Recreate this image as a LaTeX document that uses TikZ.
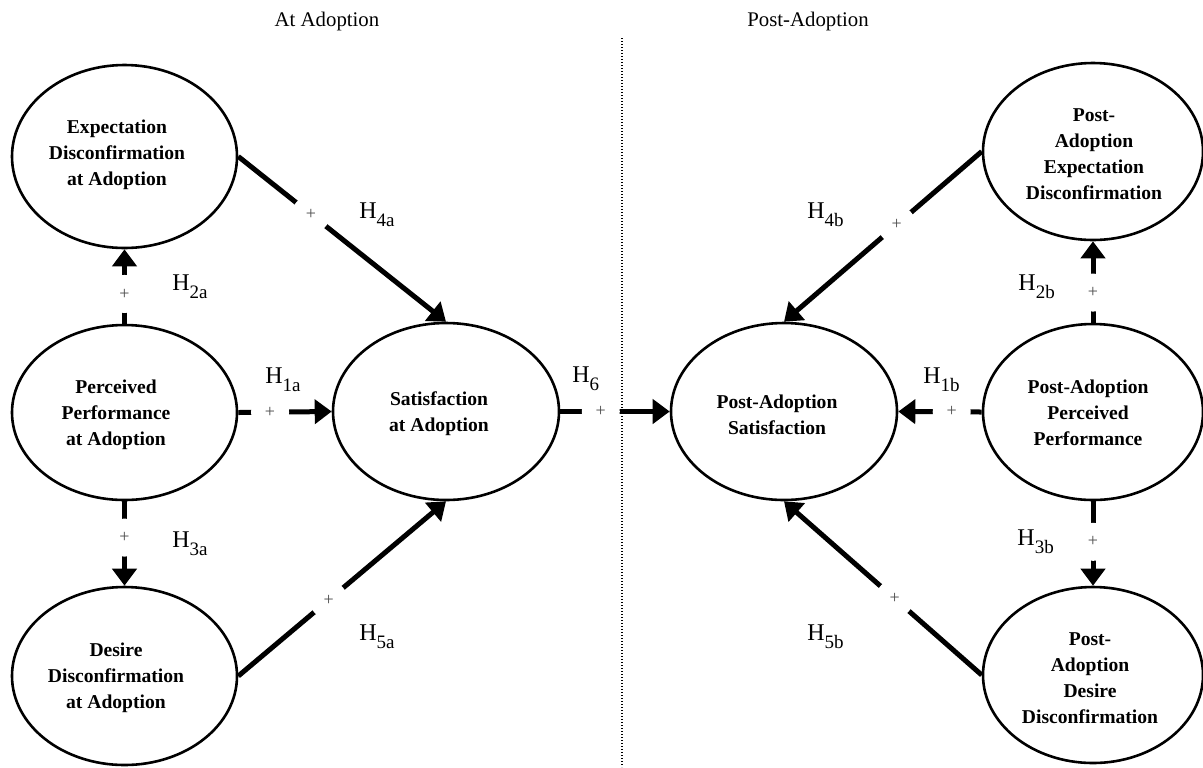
\documentclass[tikz,border=0pt]{standalone}
\usepackage{fontspec}
\setmainfont{Liberation Serif}
\usetikzlibrary{arrows.meta,shapes.geometric}
\newcommand\hyp[1]{H\raisebox{-4pt}{\fontsize{9.5}{9.5}\selectfont #1}}
\begin{document}
\begin{tikzpicture}[x=0.5pt,y=-0.5pt,
  ell/.style={draw, ellipse, line width=1.3pt, inner sep=0pt},
  lab/.style={font=\bfseries\fontsize{9.8}{13}\selectfont, align=center, inner sep=0pt},
  conn/.style={line width=2.5pt, -{Triangle[length=8.5pt,width=12pt]}},
  gapnode/.style={circle, fill=white, minimum size=19pt, inner sep=0pt, font=\fontsize{9}{9}\selectfont, text=black!70},
  hy/.style={font=\fontsize{12}{12}\selectfont, inner sep=0pt, anchor=base west},
  ttl/.style={font=\fontsize{10.4}{12}\selectfont, inner sep=0pt}]
\useasboundingbox (0,0) rectangle (1203,767);
% titles and divider
\node[ttl] (t1) at (327,21) {At Adoption};
\node[ttl] (t2) at (808,21) {Post-Adoption};
\coordinate (dtop) at (622,38);
\coordinate (dbot) at (622,767);
\draw[line width=0.6pt, dash pattern=on 0.6pt off 0.9pt] (dtop) -- (dbot);
% ellipses
\node[ell, minimum width=112.5pt, minimum height=91.5pt] (E1) at (124.5,156.5) {};
\node[ell, minimum width=112.5pt, minimum height=87.5pt] (P1) at (124.5,412.5) {};
\node[ell, minimum width=112.5pt, minimum height=89pt] (D1) at (124.5,676) {};
\node[ell, minimum width=113pt, minimum height=88.5pt] (S1) at (446,411.5) {};
\node[ell, minimum width=113pt, minimum height=88.5pt] (S2) at (784,411.5) {};
\node[ell, minimum width=110pt, minimum height=88.5pt] (E2) at (1093,151.5) {};
\node[ell, minimum width=110pt, minimum height=88pt] (P2) at (1093,412) {};
\node[ell, minimum width=110pt, minimum height=88pt] (D2) at (1093,675) {};
% texts
\node[lab] (tE1) at (117,155) {Expectation\\Disconfirmation\\at Adoption};
\node[lab] (tP1) at (116,415) {Perceived\\Performance\\at Adoption};
\node[lab] (tD1) at (116,678) {Desire\\Disconfirmation\\at Adoption};
\node[lab] (tS1) at (439,413.5) {Satisfaction\\at Adoption};
\node[lab] (tS2) at (777,414.5) {Post-Adoption\\Satisfaction};
\node[lab] (tE2) at (1094,154) {Post-\\Adoption\\Expectation\\Disconfirmation};
\node[lab] (tP2) at (1088,413) {Post-Adoption\\Perceived\\Performance};
\node[lab] (tD2) at (1090,678) {Post-\\Adoption\\Desire\\Disconfirmation};
% connectors
\draw[conn] (P1.north) -- node[gapnode,pos=0.40] (g2a) {+} (E1.south);
\draw[conn] (P1.south) -- node[gapnode,pos=0.43] (g3a) {+} (D1.north);
\draw[conn] (P1.east) -- node[gapnode,pos=0.34] (g1a) {+} (S1.west);
\draw[conn] (E1.east) -- node[gapnode,pos=0.35] (g4a) {+} (S1.north);
\draw[conn] (D1.east) -- node[gapnode,pos=0.435] (g5a) {+} (S1.south);
\draw[conn] (S1.east) -- node[gapnode,pos=0.37] (g6) {+} (S2.west);
\draw[conn] (P2.west) -- node[gapnode,pos=0.36] (g1b) {+} (S2.east);
\draw[conn] (E2.west) -- node[gapnode,pos=0.43] (g4b) {+} (S2.north);
\draw[conn] (D2.west) -- node[gapnode,pos=0.44] (g5b) {+} (S2.south);
\draw[conn] (P2.north) -- node[gapnode,pos=0.37] (g2b) {+} (E2.south);
\draw[conn] (P2.south) -- node[gapnode,pos=0.48] (g3b) {+} (D2.north);
% hypothesis labels
\node[hy] (h2a) at (172,290) {\hyp{2a}};
\node[hy] (h3a) at (172,547) {\hyp{3a}};
\node[hy] (h1a) at (265,383) {\hyp{1a}};
\node[hy] (h4a) at (359,218) {\hyp{4a}};
\node[hy] (h5a) at (359,640) {\hyp{5a}};
\node[hy] (h6) at (572,382) {\hyp{6}};
\node[hy] (h1b) at (923,383) {\hyp{1b}};
\node[hy] (h4b) at (807,218) {\hyp{4b}};
\node[hy] (h5b) at (807,640) {\hyp{5b}};
\node[hy] (h2b) at (1018,290) {\hyp{2b}};
\node[hy] (h3b) at (1017,545) {\hyp{3b}};
\end{tikzpicture}
\end{document}
